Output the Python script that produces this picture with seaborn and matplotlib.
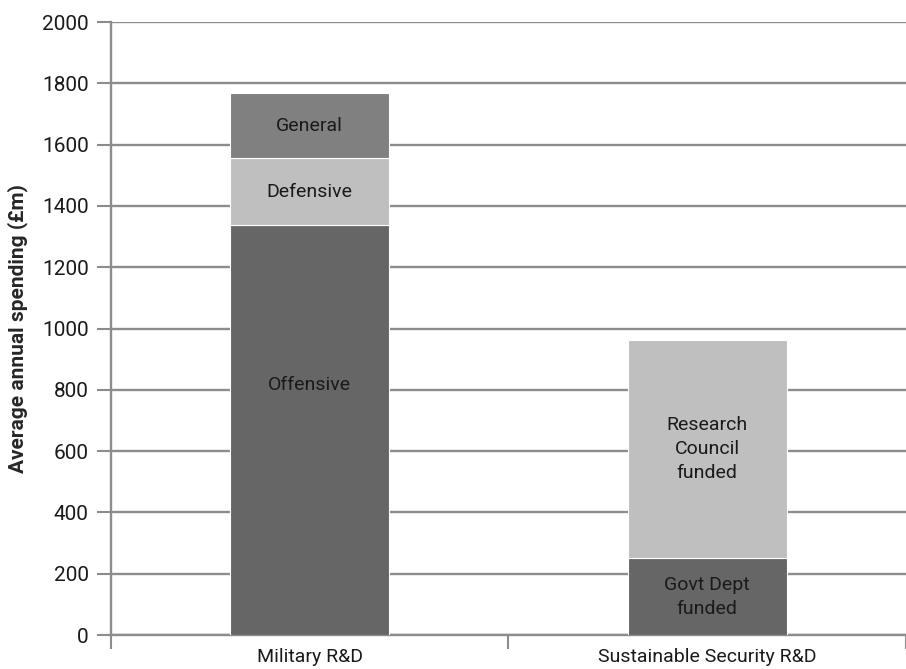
import pandas as pd
import matplotlib
matplotlib.use('Agg')
import matplotlib.pyplot as plt
import seaborn as sns

# dados
categories = ['Military R&D', 'Sustainable Security R&D']
segments = ['Offensive', 'Defensive', 'General', 'Govt Dept funded', 'Research Council funded']
segment_cat = ['Military R&D', 'Military R&D', 'Military R&D',
               'Sustainable Security R&D', 'Sustainable Security R&D']
segment_values = [1338, 218, 211, 250, 714]
segment_labels = ['Offensive', 'Defensive', 'General', 'Govt Dept\nfunded', 'Research\nCouncil\nfunded']
segment_colors = ['#666666', '#bfbfbf', '#808080', '#666666', '#bfbfbf']

sns.set_style('white')
plt.rcParams['font.family'] = ['Roboto', 'DejaVu Sans']

fig = plt.figure(figsize=(9.06, 6.69), dpi=100)
ax = fig.add_axes([0.1225, 0.0508, 0.8775, 0.9162])

# empilhar as barras
bottoms = {c: 0 for c in categories}
for seg, cat, val, lab, col in zip(segments, segment_cat, segment_values, segment_labels, segment_colors):
    df = pd.DataFrame({'cat': [cat], 'val': [val]})
    b = bottoms[cat]
    sns.barplot(data=df, x='cat', y='val', order=categories, color=col, width=0.4,
                bottom=b, edgecolor='white', linewidth=0.8, ax=ax, zorder=3)
    xi = categories.index(cat)
    ymid = b + val / 2
    if seg == 'Offensive':
        ymid = 815
    ax.text(xi, ymid, lab, ha='center', va='center', fontsize=14, color='#1a1a1a',
            linespacing=1.45, zorder=4)
    bottoms[cat] = b + val

ax.set_ylim(0, 2000)
ax.set_xlim(-0.5, 1.482)
ax.set_yticks(range(0, 2001, 200))
ax.yaxis.grid(True, color='#8c8c8c', linewidth=1.7)
ax.set_axisbelow(True)
ax.set_xlabel('')
ax.set_ylabel('Average annual spending (£m)', fontsize=15, fontweight='bold', labelpad=10)

for s in ['top', 'right']:
    ax.spines[s].set_visible(False)
for s in ['left', 'bottom']:
    ax.spines[s].set_color('#8c8c8c')
    ax.spines[s].set_linewidth(1.7)

ax.tick_params(axis='y', length=10, width=1.5, color='#8c8c8c', labelsize=15, pad=6, left=True,
               labelcolor='#1a1a1a')
ax.tick_params(axis='x', which='major', length=0, labelsize=14, pad=9, labelcolor='#1a1a1a')
ax.set_xticks([-0.5, 0.5, 1.5], minor=True)
ax.tick_params(axis='x', which='minor', length=10, width=1.5, color='#8c8c8c', bottom=True)

plt.savefig('out.png', dpi=100)
